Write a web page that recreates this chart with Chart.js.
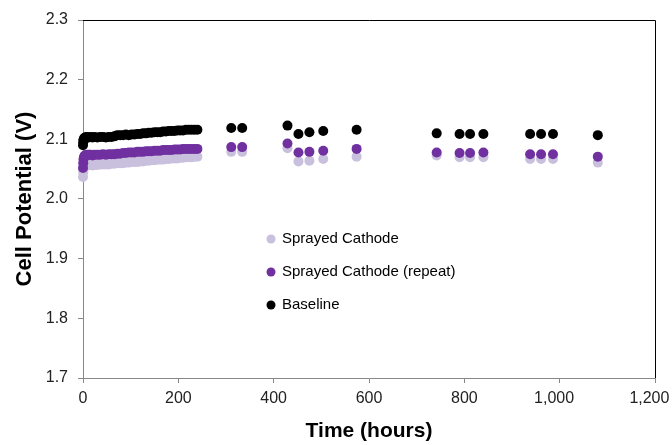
<!DOCTYPE html>
<html>
<head>
<meta charset="utf-8">
<script src="https://cdn.jsdelivr.net/npm/chart.js@4/dist/chart.umd.min.js"></script>
<style>
  html, body { margin: 0; padding: 0; background: #fff; }
  canvas { display: block; }
</style>
</head>
<body>
<canvas id="myChart" width="672" height="445"></canvas>
<script>
// time in hours (dense logging up to 240 h, then spot checks)
var hours = [
  0, 0.5, 1, 2, 3, 4, 6, 8,
  12, 16, 20, 24, 30, 36, 42, 48,
  54, 60, 66, 72, 78, 84, 90, 96,
  102, 108, 114, 120, 126, 132, 138, 144,
  150, 156, 162, 168, 174, 180, 186, 192,
  198, 204, 210, 216, 222, 228, 234, 240,
  311, 334, 429, 452, 475, 504, 574, 742,
  790, 812, 840, 938, 961, 986, 1080
];

var sprayed = [
  2.037, 2.045, 2.050, 2.053, 2.055, 2.056, 2.056, 2.057,
  2.057, 2.057, 2.056, 2.057, 2.057, 2.058, 2.058, 2.058,
  2.058, 2.059, 2.059, 2.060, 2.060, 2.060, 2.061, 2.061,
  2.062, 2.062, 2.062, 2.063, 2.063, 2.064, 2.064, 2.065,
  2.065, 2.066, 2.066, 2.066, 2.067, 2.067, 2.068, 2.068,
  2.068, 2.069, 2.069, 2.070, 2.070, 2.070, 2.071, 2.071,
  2.079, 2.079, 2.085, 2.063, 2.064, 2.067, 2.071, 2.073,
  2.070, 2.070, 2.070, 2.067, 2.067, 2.067, 2.061
];

var sprayedRepeat = [
  2.052, 2.060, 2.066, 2.070, 2.072, 2.073, 2.073, 2.074,
  2.074, 2.074, 2.073, 2.074, 2.074, 2.074, 2.075, 2.074,
  2.075, 2.075, 2.075, 2.076, 2.076, 2.077, 2.077, 2.078,
  2.078, 2.078, 2.079, 2.079, 2.079, 2.080, 2.080, 2.080,
  2.081, 2.081, 2.081, 2.082, 2.082, 2.082, 2.082, 2.083,
  2.083, 2.083, 2.084, 2.084, 2.084, 2.084, 2.084, 2.084,
  2.087, 2.087, 2.093, 2.078, 2.079, 2.081, 2.084, 2.078,
  2.077, 2.077, 2.078, 2.075, 2.075, 2.075, 2.071
];

var baseline = [
  2.090, 2.095, 2.099, 2.101, 2.102, 2.103, 2.103, 2.104,
  2.103, 2.104, 2.103, 2.104, 2.103, 2.104, 2.104, 2.103,
  2.104, 2.104, 2.105, 2.107, 2.107, 2.107, 2.108, 2.107,
  2.108, 2.108, 2.109, 2.109, 2.110, 2.110, 2.111, 2.111,
  2.112, 2.112, 2.112, 2.113, 2.113, 2.114, 2.114, 2.114,
  2.115, 2.115, 2.115, 2.116, 2.116, 2.116, 2.116, 2.116,
  2.119, 2.119, 2.123, 2.109, 2.112, 2.114, 2.116, 2.110,
  2.109, 2.109, 2.109, 2.109, 2.109, 2.109, 2.107
];

var seriesNames = ['Sprayed Cathode', 'Sprayed Cathode (repeat)', 'Baseline'];
var seriesColors = ['#c9c0dd', '#7030a0', '#000000'];

function toPoints(vals) {
  return vals.map(function (v, i) { return { x: hours[i], y: v }; });
}

var FONT = "'Liberation Sans', Arial, sans-serif";

// frame on top/right + legend sitting inside the plot
var extras = {
  id: 'extras',
  afterDraw: function (chart) {
    var ctx = chart.ctx;
    var a = chart.chartArea;
    ctx.save();
    ctx.strokeStyle = '#000';
    ctx.lineWidth = 1;
    ctx.beginPath();
    ctx.moveTo(a.left, a.top + 0.5);
    ctx.lineTo(a.right + 0.5, a.top + 0.5);
    ctx.lineTo(a.right + 0.5, a.bottom);
    ctx.stroke();

    ctx.font = '15px ' + FONT;
    ctx.textBaseline = 'middle';
    ctx.fillStyle = '#000';
    var rows = [239, 272, 305];
    chart.data.datasets.forEach(function (ds, i) {
      ctx.beginPath();
      ctx.fillStyle = ds.backgroundColor;
      ctx.arc(271, rows[i], 4.5, 0, Math.PI * 2);
      ctx.fill();
      ctx.fillStyle = '#000';
      ctx.fillText(ds.label, 282, rows[i]);
    });
    ctx.restore();
  }
};

var ctx = document.getElementById('myChart');
var myChart = new Chart(ctx, {
  type: 'scatter',
  data: {
    datasets: [{
      label: seriesNames[0],
      data: toPoints(sprayed),
      backgroundColor: seriesColors[0],
      borderColor: seriesColors[0],
      clip: false,
      order: 3
    }, {
      label: seriesNames[1],
      data: toPoints(sprayedRepeat),
      backgroundColor: seriesColors[1],
      borderColor: seriesColors[1],
      clip: false,
      order: 2
    }, {
      label: seriesNames[2],
      data: toPoints(baseline),
      backgroundColor: seriesColors[2],
      borderColor: seriesColors[2],
      clip: false,
      order: 1
    }]
  },
  options: {
    responsive: false,
    animation: false,
    devicePixelRatio: 1,
    layout: { padding: { top: 20, right: 17, left: 0, bottom: 0 } },
    elements: { point: { radius: 5, borderWidth: 0, hoverRadius: 5 } },
    plugins: {
      legend: { display: false },
      tooltip: { enabled: false }
    },
    scales: {
      x: {
        type: 'linear',
        min: 0,
        max: 1200,
        grid: { drawOnChartArea: false, tickLength: 5, color: '#888' },
        border: { color: '#888' },
        ticks: {
          stepSize: 200,
          padding: 6,
          color: '#222',
          font: { family: FONT, size: 16 },
          callback: function (v) {
            var s = v.toLocaleString('en-US');
            // thousands labels sit a little left of their tick in the original
            return v >= 1000 ? s + '\u2002\u2009' : s;
          }
        },
        title: {
          display: true,
          text: 'Time (hours)',
          color: '#000',
          font: { family: FONT, size: 21, weight: 'bold' },
          padding: { top: 0, bottom: 1 }
        },
        afterFit: function (scale) {
          scale.height = 67;
          scale.paddingLeft = 0;
          scale.paddingRight = 0;
        }
      },
      y: {
        min: 1.7,
        max: 2.3,
        grid: { drawOnChartArea: false, tickLength: 5, color: '#888' },
        border: { color: '#888' },
        ticks: {
          stepSize: 0.1,
          padding: 10,
          color: '#222',
          font: { family: FONT, size: 16 },
          callback: function (v) { return v.toFixed(1); }
        },
        title: {
          display: true,
          text: 'Cell Potential (V)',
          color: '#000',
          font: { family: FONT, size: 22, weight: 'bold' },
          padding: { top: 12, bottom: 0 }
        },
        afterFit: function (scale) {
          scale.width = 83;
          scale.paddingTop = 0;
          scale.paddingBottom = 0;
        }
      }
    }
  },
  plugins: [extras]
});
</script>
</body>
</html>
